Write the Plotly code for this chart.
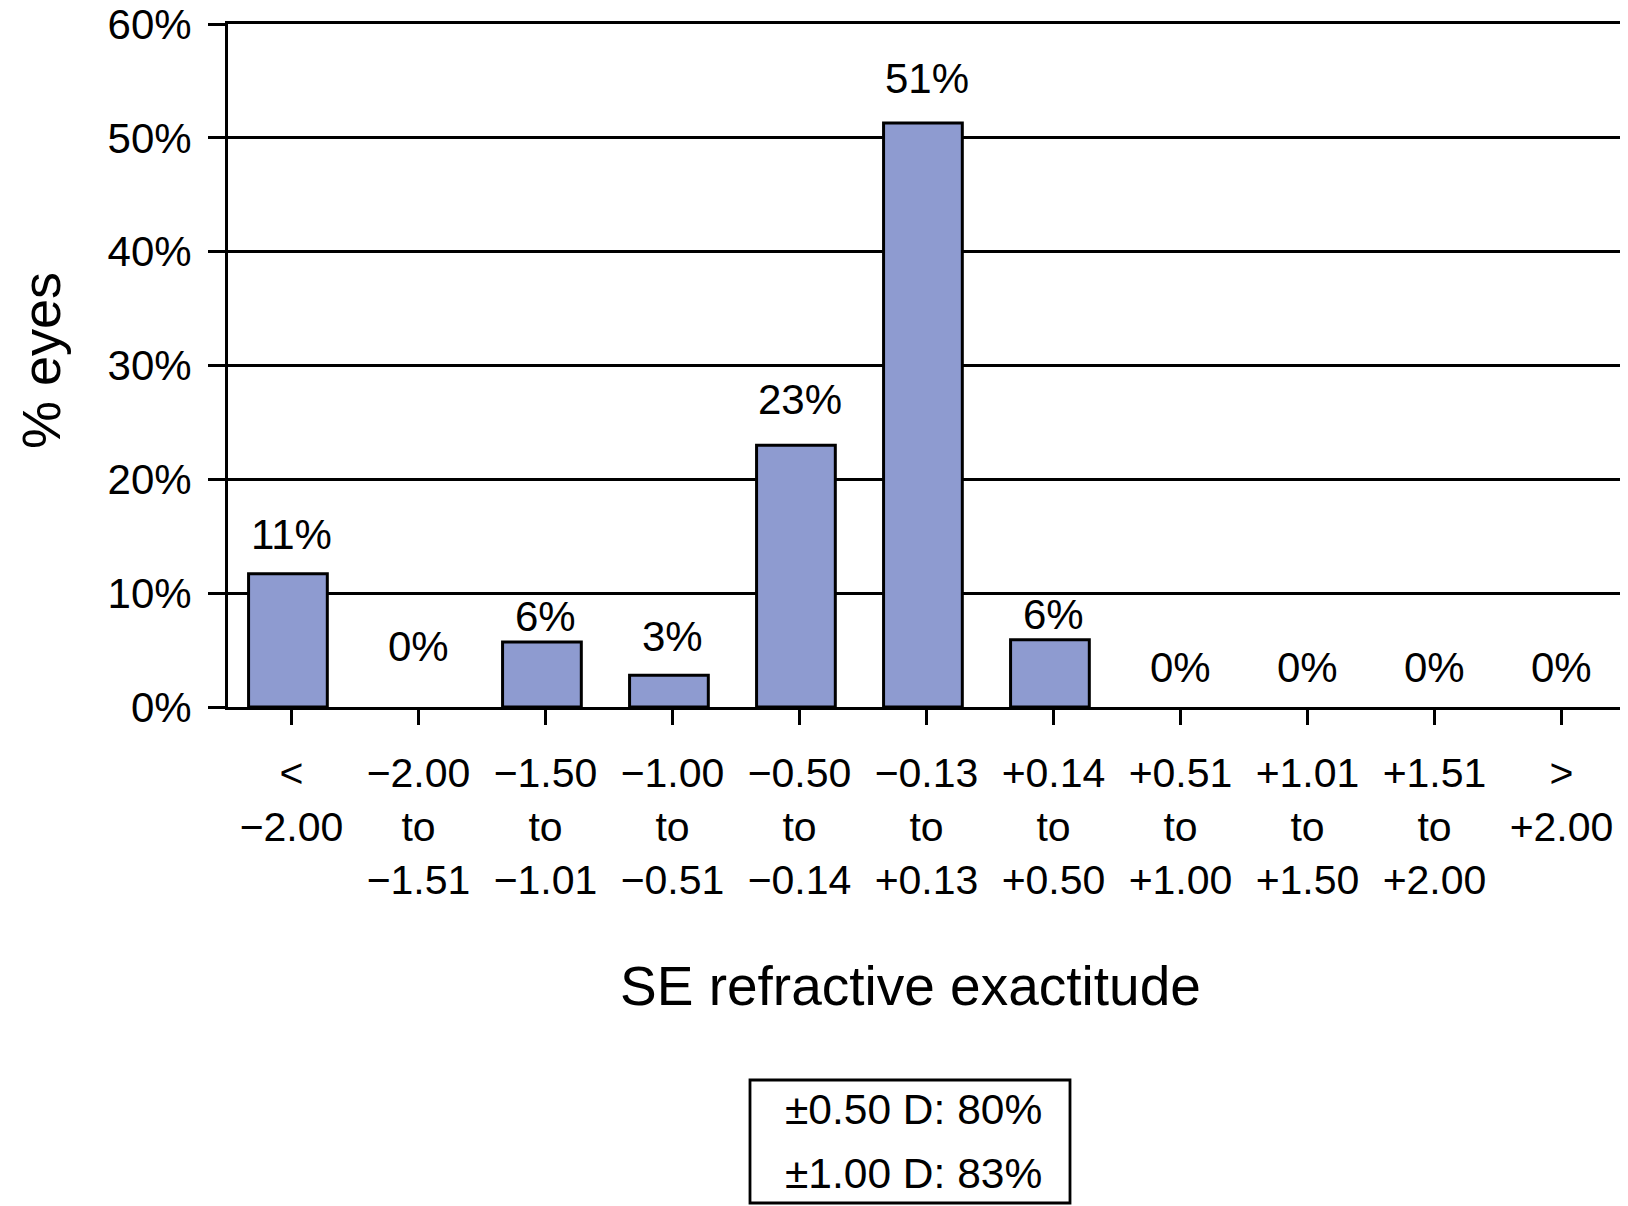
import plotly.graph_objects as go

categories = ["< −2.00", "−2.00 to −1.51", "−1.50 to −1.01", "−1.00 to −0.51",
              "−0.50 to −0.14", "−0.13 to +0.13", "+0.14 to +0.50", "+0.51 to +1.00",
              "+1.01 to +1.50", "+1.51 to +2.00", "> +2.00"]
pct_eyes = [11.7, 0, 5.7, 2.8, 23.0, 51.3, 5.9, 0, 0, 0, 0]
bar_labels = ["11%", "0%", "6%", "3%", "23%", "51%", "6%", "0%", "0%", "0%", "0%"]
y_ticks = [0, 10, 20, 30, 40, 50, 60]
summary_lines = ["±0.50 D: 80%", "±1.00 D: 83%"]

# label offsets above bar tops (px), style only
label_offsets = [39, 61, 26, 39, 46, 45, 25, 40, 40, 40, 40]

def tick_text(c):
    if c.startswith("<"):
        return "&lt;<br>" + c[2:]
    if c.startswith(">"):
        return "&gt;<br>" + c[2:]
    a, b = c.split(" to ")
    return a + "<br>to<br>" + b

FONT = "Liberation Sans, Arial, Helvetica, sans-serif"
OFF = 8  # page body margin
W, H = 1628 - OFF, 1206 - OFF
L, R, T, B = 228 - OFF, 3, 24 - OFF, 499
pw, ph = W - L - R, H - T - B

def px_x(p):
    return (p - OFF - L) / pw

def px_y(p):
    return (H - B - (p - OFF)) / ph

fig = go.Figure()
fig.add_trace(go.Bar(
    x=list(range(len(categories))), y=pct_eyes,
    marker=dict(color="#8E9BD0",
                line=dict(color="black", width=[3 if v > 0 else 0 for v in pct_eyes])),
    width=0.62, offset=-0.338, hoverinfo="skip", showlegend=False,
))

for i, (v, t) in enumerate(zip(pct_eyes, bar_labels)):
    fig.add_annotation(x=i, y=v, text=t, showarrow=False, yanchor="middle",
                       yshift=label_offsets[i], font=dict(size=42, color="black", family=FONT))

fig.update_layout(
    width=W, height=H,
    margin=dict(l=L, r=R, t=T, b=B, pad=0, autoexpand=False),
    paper_bgcolor="white", plot_bgcolor="white",
    font=dict(family=FONT, color="black", size=42),
    xaxis=dict(
        range=[-0.5, len(categories) - 0.5],
        tickmode="array", tickvals=list(range(len(categories))),
        ticktext=[tick_text(c) for c in categories],
        ticks="outside", ticklen=15, tickwidth=2.8, tickcolor="black",
        showline=True, linecolor="black", linewidth=3, mirror=True,
        showgrid=False, zeroline=False, automargin=False,
        tickfont=dict(size=41, family=FONT, color="black"),
        tickson="boundaries", ticklabelstandoff=13,
    ),
    yaxis=dict(
        range=[0, 60], tickvals=y_ticks, ticktext=[f"{v}%" for v in y_ticks],
        ticks="outside", ticklen=17, tickwidth=2.8, tickcolor="black",
        showline=True, linecolor="black", linewidth=3, mirror=True,
        showgrid=True, gridcolor="black", gridwidth=2.8, zeroline=False,
        automargin=False,
        tickfont=dict(size=42, family=FONT, color="black"),
        ticklabelstandoff=8, ticklabeloverflow="allow",
    ),
)

fig.add_annotation(xref="paper", yref="paper", x=px_x(910), y=px_y(986),
                   text="SE refractive exactitude", showarrow=False,
                   font=dict(size=55, family=FONT, color="black"),
                   xanchor="center", yanchor="middle")
fig.add_annotation(xref="paper", yref="paper", x=px_x(41), y=px_y(360),
                   text="% eyes", showarrow=False, textangle=-90,
                   font=dict(size=54, family=FONT, color="black"),
                   xanchor="center", yanchor="middle")

fig.add_shape(type="rect", xref="paper", yref="paper",
              x0=px_x(750), x1=px_x(1070), y0=px_y(1203), y1=px_y(1080),
              line=dict(color="black", width=2.8), fillcolor="white")
for yy, line in zip([1109, 1173], summary_lines):
    fig.add_annotation(xref="paper", yref="paper", x=px_x(913), y=px_y(yy),
                       text=line, showarrow=False,
                       font=dict(size=42.5, family=FONT, color="black"),
                       xanchor="center", yanchor="middle")

fig.write_html("out.html")
